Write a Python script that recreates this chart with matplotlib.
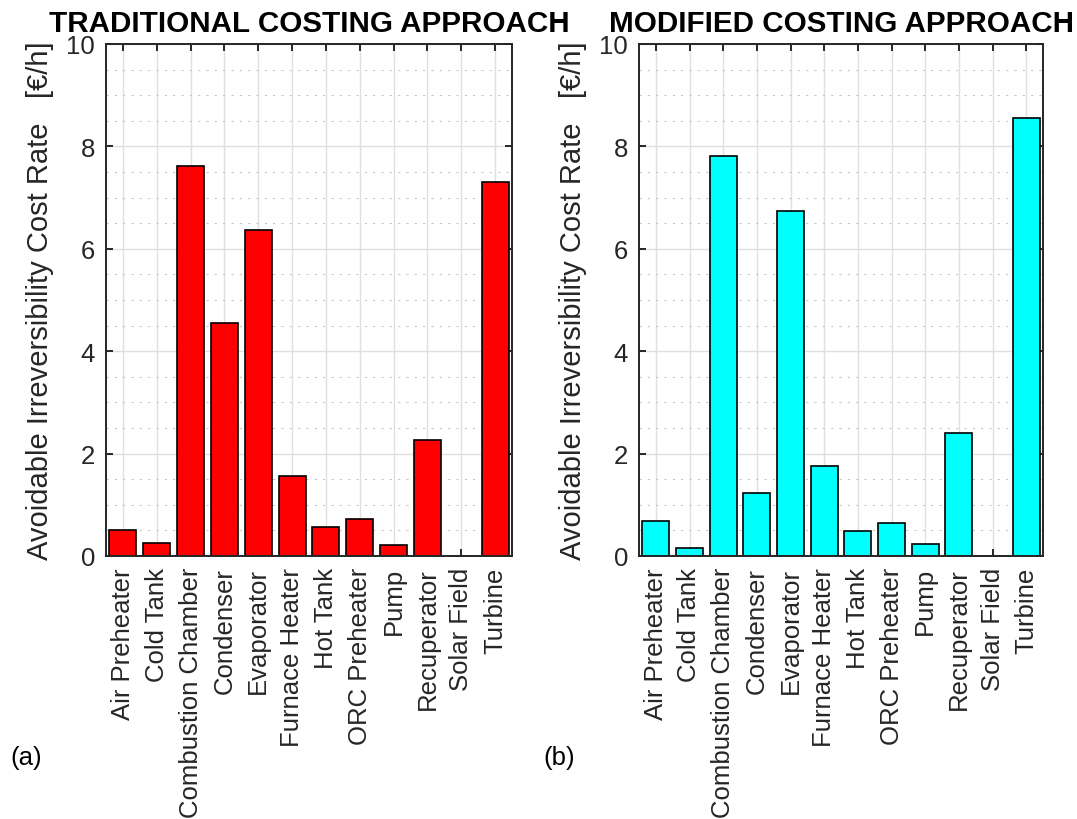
import numpy as np
import matplotlib
matplotlib.use("Agg")
import matplotlib.pyplot as plt

plt.rcParams['font.family'] = ['Liberation Sans', 'DejaVu Sans']

components = ["Air Preheater", "Cold Tank", "Combustion Chamber", "Condenser",
              "Evaporator", "Furnace Heater", "Hot Tank", "ORC Preheater",
              "Pump", "Recuperator", "Solar Field", "Turbine"]

traditional = [0.51, 0.25, 7.61, 4.55, 6.37, 1.57, 0.57, 0.72, 0.21, 2.27, 0.0, 7.31]
modified = [0.68, 0.16, 7.81, 1.24, 6.73, 1.75, 0.49, 0.64, 0.24, 2.41, 0.0, 8.55]

titles = ["TRADITIONAL COSTING APPROACH", "MODIFIED COSTING APPROACH"]
panel_tags = ["(a)", "(b)"]
bar_colors = ["#ff0000", "#00ffff"]
y_label = "Avoidable Irreversibility Cost Rate   [\u20ac/h]"
y_ticks = [0, 2, 4, 6, 8, 10]

INK = "#262626"

fig = plt.figure(figsize=(10.77, 8.2), dpi=100)
ax_left = fig.add_axes([106 / 1077, 1 - 557 / 820, 406 / 1077, 512 / 820])
ax_right = fig.add_axes([639 / 1077, 1 - 557 / 820, 404 / 1077, 512 / 820])

for ax, values, title, color, tag, tag_x in zip(
        [ax_left, ax_right], [traditional, modified], titles, bar_colors,
        panel_tags, [10 / 1077, 543 / 1077]):
    x = np.arange(len(components))
    ax.bar(x, values, width=0.8, color=color, edgecolor="black",
           linewidth=1.2, zorder=2)

    ax.set_xlim(-0.5, len(components) - 0.5)
    ax.set_ylim(0, 10)
    ax.set_xticks(x)
    ax.set_xticklabels(components, rotation=90, fontsize=18.5, color=INK)
    ax.set_yticks(y_ticks)
    ax.set_yticklabels([str(t) for t in y_ticks], fontsize=18.5, color=INK)

    # grid drawn beneath the bars
    for xv in x:
        ax.axvline(xv, color="#e0e0e0", linewidth=1.0, zorder=0)
    for yv in y_ticks:
        ax.axhline(yv, color="#e0e0e0", linewidth=1.0, zorder=0)
    for yv in np.arange(0.5, 10, 0.5):
        if yv not in y_ticks:
            ax.axhline(yv, color="#c4c4c4", linewidth=0.75,
                       linestyle=(0, (2, 6)), zorder=0)

    ax.tick_params(axis="both", direction="in", length=5, width=1.4,
                   color=INK, top=True, right=True, pad=8)
    for sp in ax.spines.values():
        sp.set_color(INK)
        sp.set_linewidth(1.4)
        sp.set_zorder(3)

    ax.set_ylabel(y_label, fontsize=21, color=INK)
    ax.yaxis.set_label_coords(-0.128, 0.5)
    ax.set_title(title, fontsize=21.3, fontweight="bold", color="black", pad=9.5)
    fig.text(tag_x, 1 - 758 / 820, tag, fontsize=18.5, color="black",
             ha="left", va="center")

fig.savefig("out.png", dpi=100)
